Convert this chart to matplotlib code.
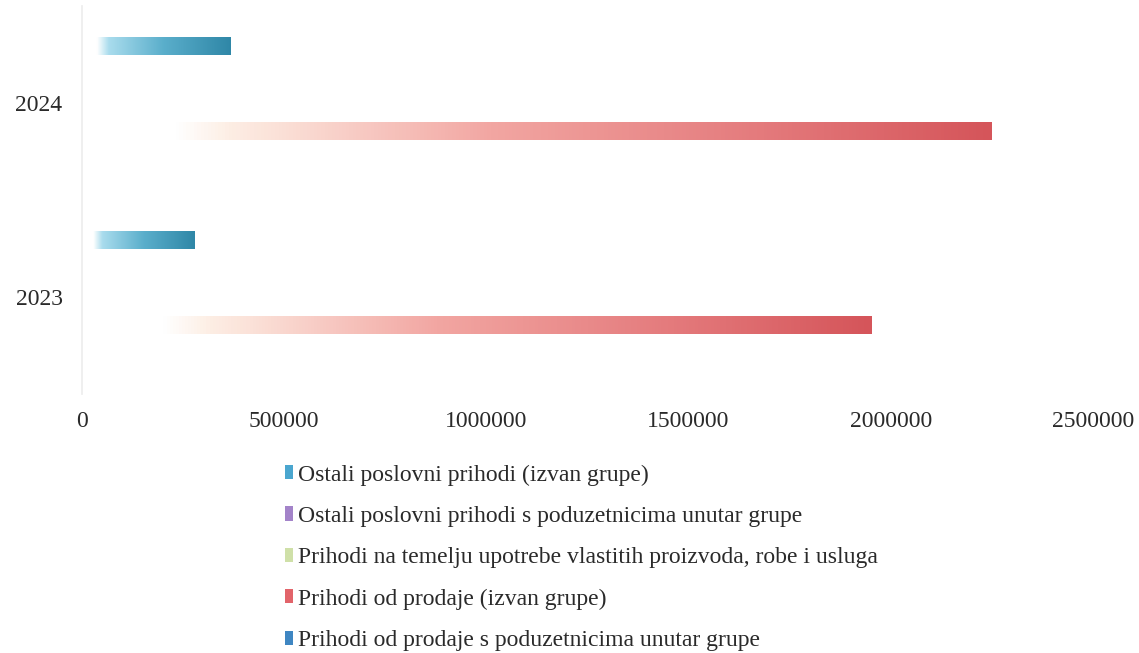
import matplotlib
matplotlib.use("Agg")
import matplotlib.pyplot as plt
import numpy as np
from matplotlib.colors import LinearSegmentedColormap
from matplotlib.patches import Patch

years = ["2023", "2024"]
series_names = [
    "Ostali poslovni prihodi (izvan grupe)",
    "Ostali poslovni prihodi s poduzetnicima unutar grupe",
    "Prihodi na temelju upotrebe vlastitih proizvoda, robe i usluga",
    "Prihodi od prodaje (izvan grupe)",
    "Prihodi od prodaje s poduzetnicima unutar grupe",
]
ostali_izvan = [279000, 366000]
ostali_unutar = [0, 0]
vlastiti = [0, 0]
prodaja_izvan = [1953000, 2250000]
prodaja_unutar = [0, 0]
series_values = [ostali_izvan, ostali_unutar, vlastiti, prodaja_izvan, prodaja_unutar]

legend_colors = ["#4aa6cf", "#a383c9", "#cfe0a8", "#e2646a", "#3f86c2"]
gradients = [
    [(0, "#ffffff"), (0.1, "#ffffff"), (0.18, "#a9dced"), (0.55, "#5aaecb"), (1, "#2f87a7")],
    [(0, "#ffffff"), (0.1, "#ffffff"), (1, "#8064a2")],
    [(0, "#ffffff"), (0.1, "#ffffff"), (1, "#9bbb59")],
    [(0, "#ffffff"), (0.1, "#ffffff"), (0.16, "#fdeee4"), (0.45, "#f2a6a2"), (0.75, "#e47a7c"), (1, "#d5555a")],
    [(0, "#ffffff"), (0.1, "#ffffff"), (1, "#2f6fa8")],
]

plt.rcParams["font.family"] = ["Liberation Serif", "DejaVu Serif"]
text_color = "#2a2a2a"

fig = plt.figure(figsize=(11.39, 6.53), dpi=100)
ax = fig.add_axes([82 / 1139, 1 - 394 / 653, (1093 - 82) / 1139, 388 / 653])

y = np.arange(len(years))
slot = 0.146
bar_h = 0.088
offsets = [2 * slot, slot, 0, -slot, -2 * slot]

for vals, off, stops in zip(series_values, offsets, gradients):
    cmap = LinearSegmentedColormap.from_list("g", stops)
    bars = ax.barh(y + off, vals, height=bar_h, color="none", edgecolor="none")
    for b in bars:
        x0, y0 = b.get_x(), b.get_y()
        w, h = b.get_width(), b.get_height()
        if w <= 0:
            continue
        grad = np.linspace(0, 1, 256).reshape(1, -1)
        ax.imshow(grad, extent=[x0, x0 + w, y0, y0 + h], aspect="auto",
                  cmap=cmap, interpolation="bilinear", zorder=2)

ax.set_xlim(0, 2500000)
ax.set_ylim(-0.5, 1.5)
ax.set_xticks(range(0, 2500001, 500000))
ax.set_xticklabels([str(v) for v in range(0, 2500001, 500000)])
ax.set_yticks(y)
ax.set_yticklabels(years)
ax.tick_params(length=0, labelsize=17, colors=text_color)
ax.tick_params(axis="x", pad=12)
ax.tick_params(axis="y", pad=14)
for s in ["top", "right", "bottom"]:
    ax.spines[s].set_visible(False)
ax.spines["left"].set_color("#ececec")
ax.spines["left"].set_linewidth(1.2)

handles = [Patch(facecolor=c, edgecolor="none") for c in legend_colors]
leg = fig.legend(handles, series_names, loc="upper left",
                 bbox_to_anchor=(276 / 1139, 1 - 455 / 653), frameon=False,
                 fontsize=17, handlelength=0.3, handleheight=0.55,
                 handletextpad=0.25, labelspacing=0.86, borderaxespad=0)
for t in leg.get_texts():
    t.set_color(text_color)

fig.savefig("out.png", dpi=100, facecolor="white")
